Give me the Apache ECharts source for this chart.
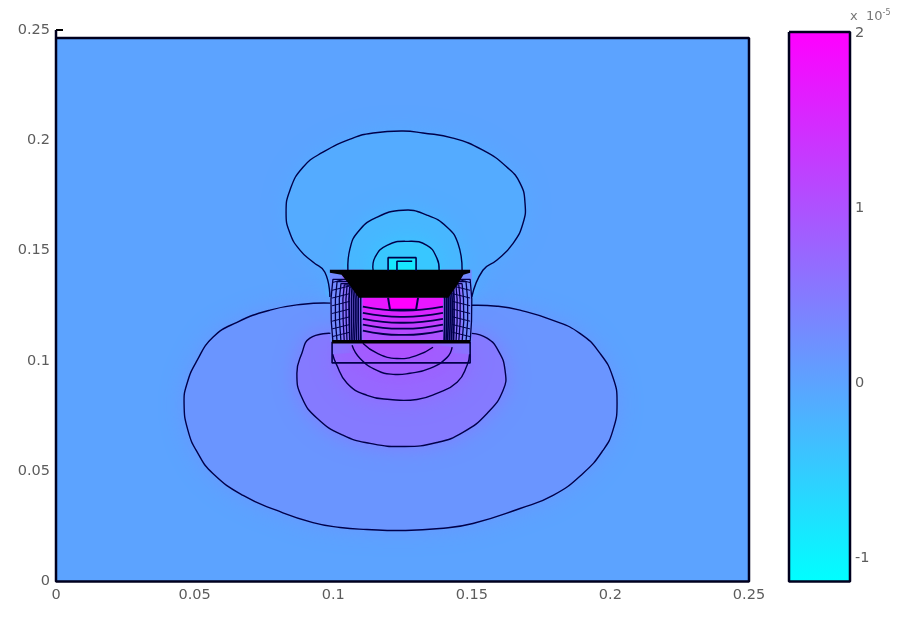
<!DOCTYPE html>
<html><head><meta charset="utf-8">
<style>html,body{margin:0;padding:0;background:#fff}#c{width:900px;height:622px}</style>
<script src="https://cdn.jsdelivr.net/npm/echarts@6/dist/echarts.min.js"></script>
</head><body><div id="c"></div>
<script>
const xTicks=[0,0.05,0.1,0.15,0.2,0.25];
const yTicks=[0,0.05,0.1,0.15,0.2,0.25];
const barTicks=[-1,0,1,2];
const barRange=[-1.134,2.006];
const coolEnds=[[0,255,255],[255,0,255]];
const plotTop=0.2464;

const contourA=[[.0990,.1262],[.0891,.1257],[.0772,.1230],[.0653,.1175],[.0566,.1107],[.0509,.1002],[.0473,.0899],[.0462,.0807],[.0476,.0685],[.0512,.0581],[.0566,.0490],[.0675,.0390],[.0797,.0322],[.0927,.0267],[.1025,.0245],[.1122,.0236],[.1248,.0231],[.1385,.0240],[.1504,.0263],[.1674,.0331],[.1793,.0390],[.1901,.0490],[.1973,.0594],[.2009,.0685],[.2024,.0807],[.2009,.0926],[.1962,.1035],[.1890,.1125],[.1793,.1184],[.1674,.1230],[.1591,.1248],[.1500,.1252]];
const contourB=[[.0990,.1125],[.0916,.1103],[.0887,.1035],[.0869,.0944],[.0887,.0834],[.0942,.0740],[.1035,.0663],[.1133,.0626],[.1252,.0612],[.1374,.0630],[.1468,.0676],[.1555,.0762],[.1613,.0867],[.1620,.0957],[.1595,.1048],[.1555,.1103],[.1500,.1125]];
const contourC=[[.0998,.1030],[.1010,.0989],[.1050,.0899],[.1122,.0844],[.1205,.0825],[.1302,.0825],[.1374,.0853],[.1447,.0903],[.1483,.0980],[.1492,.1030]];
const contourD=[[.1068,.1071],[.1097,.1011],[.1158,.0957],[.1216,.0939],[.1277,.0944],[.1349,.0966],[.1411,.1016],[.1429,.1062]];
const contourE=[[.1107,.1080],[.1158,.1035],[.1230,.1011],[.1302,.1025],[.1360,.1062]];
const contourF=[[.0988,.1290],[.0970,.1402],[.0927,.1448],[.0880,.1502],[.0844,.1579],[.0830,.1670],[.0844,.1774],[.0891,.1878],[.0963,.1946],[.1071,.2010],[.1144,.2033],[.1252,.2042],[.1324,.2033],[.1432,.2010],[.1540,.1955],[.1627,.1878],[.1674,.1806],[.1692,.1715],[.1685,.1625],[.1649,.1533],[.1591,.1457],[.1540,.1411],[.1500,.1290]];
const contourG=[[.1053,.1411],[.1061,.1511],[.1089,.1584],[.1151,.1647],[.1252,.1683],[.1338,.1661],[.1411,.1606],[.1450,.1533],[.1465,.1411]];
const contourH=[[.1144,.1411],[.1151,.1470],[.1194,.1524],[.1270,.1542],[.1338,.1524],[.1374,.1466],[.1382,.1411]];
const topBox=[[.1198,.1409],[.1198,.1468],[.1299,.1468],[.1299,.1409]];
const topBoxLine=[[.1230,.1409],[.1230,.1452],[.1285,.1452]];
const lowerBox=[[.0996,.1087],[.0996,.0991],[.1494,.0991],[.1494,.1087]];
const lowerBoxTop=[[.0996,.1087],[.1494,.1087]];
const sideLeftOuter=[[.0988,.1087],[.0988,.1413],[.1110,.1413],[.1110,.1087]];
const sideRightOuter=[[.1390,.1087],[.1390,.1413],[.1500,.1413],[.1500,.1087]];
const sideLeftInner=[[.1030,.1087],[.1030,.1413],[.1110,.1413],[.1110,.1087]];
const sideRightInner=[[.1390,.1087],[.1390,.1413],[.1465,.1413],[.1465,.1087]];
const core=[[.1107,.1087],[.1107,.1286],[.1396,.1286],[.1396,.1087]];
const blackBand=[[.0988,.1413],[.1494,.1413],[.1494,.1400],[.1470,.1390],[.1445,.1340],[.1415,.1286],[.1092,.1286],[.1062,.1340],[.1030,.1390],[.0988,.1400]];
const coreLines=[
 {level:1.1,pts:[[.1107,.1137],[.1180,.1122],[.1250,.1118],[.1320,.1122],[.1396,.1137]]},
 {level:1.25,pts:[[.1107,.1164],[.1180,.1150],[.1250,.1146],[.1320,.1150],[.1396,.1164]]},
 {level:1.4,pts:[[.1107,.1191],[.1180,.1177],[.1250,.1173],[.1320,.1177],[.1396,.1191]]},
 {level:1.55,pts:[[.1107,.1218],[.1180,.1204],[.1250,.1200],[.1320,.1204],[.1396,.1218]]},
 {level:1.72,pts:[[.1107,.1246],[.1180,.1232],[.1250,.1228],[.1320,.1232],[.1396,.1246]]}
];
const coreCap=[[.1198,.1286],[.1205,.1232],[.1299,.1232],[.1306,.1286]];
const coils=[
 [[.0999,.1087],[.0993,.1180],[.0992,.1280],[.0999,.1370],[.1494,.1370],[.1500,.1280],[.1499,.1180],[.1494,.1087]],
 [[.1014,.1087],[.1008,.1180],[.1008,.1280],[.1014,.1360],[.1479,.1360],[.1485,.1280],[.1485,.1180],[.1479,.1087]],
 [[.1028,.1087],[.1023,.1180],[.1022,.1280],[.1028,.1350],[.1465,.1350],[.1470,.1280],[.1471,.1180],[.1465,.1087]],
 [[.1040,.1087],[.1036,.1180],[.1035,.1280],[.1040,.1345],[.1453,.1345],[.1458,.1280],[.1458,.1180],[.1453,.1087]],
 [[.1050,.1087],[.1047,.1180],[.1046,.1280],[.1050,.1340],[.1443,.1340],[.1447,.1280],[.1447,.1180],[.1443,.1087]],
 [[.1060,.1087],[.1058,.1180],[.1057,.1280],[.1060,.1335],[.1434,.1335],[.1436,.1280],[.1436,.1180],[.1434,.1087]],
 [[.1068,.1087],[.1066,.1180],[.1066,.1280],[.1068,.1330],[.1427,.1330],[.1429,.1280],[.1429,.1180],[.1427,.1087]],
 [[.1076,.1087],[.1074,.1180],[.1074,.1280],[.1076,.1325],[.1420,.1325],[.1422,.1280],[.1422,.1180],[.1420,.1087]],
 [[.1084,.1087],[.1082,.1180],[.1082,.1280],[.1084,.1320],[.1413,.1320],[.1415,.1280],[.1415,.1180],[.1413,.1087]],
 [[.1092,.1087],[.1090,.1180],[.1090,.1280],[.1092,.1315],[.1407,.1315],[.1409,.1280],[.1409,.1180],[.1407,.1087]],
 [[.1100,.1087],[.1099,.1180],[.1099,.1280],[.1100,.1310],[.1400,.1310],[.1402,.1280],[.1402,.1180],[.1400,.1087]]
];
const rungsLeft=[
 [[.0996,.1110],[.1060,.1130]],[[.0996,.1145],[.1060,.1165]],[[.0996,.1180],[.1060,.1200]],[[.0996,.1215],[.1060,.1235]],
 [[.0996,.1250],[.1060,.1270]],[[.0996,.1285],[.1060,.1305]],[[.0996,.1320],[.1060,.1340]],[[.0996,.1355],[.1040,.1370]]
];
const rungsRight=[
 [[.1494,.1110],[.1430,.1130]],[[.1494,.1145],[.1430,.1165]],[[.1494,.1180],[.1430,.1200]],[[.1494,.1215],[.1430,.1235]],
 [[.1494,.1250],[.1430,.1270]],[[.1494,.1285],[.1430,.1305]],[[.1494,.1320],[.1430,.1340]],[[.1494,.1355],[.1450,.1370]]
];

const coolColor=v=>{
  const f=Math.max(0,Math.min(1,(v-barRange[0])/(barRange[1]-barRange[0])));
  const c=coolEnds[0].map((a,i)=>Math.round(a+(coolEnds[1][i]-a)*f));
  return 'rgb('+c.join(',')+')';
};
let z=1;
const series=[];
const LINE='#00004a';
function fill(pts,color,blur,smooth){
  series.push({type:'custom',coordinateSystem:'cartesian2d',xAxisIndex:0,yAxisIndex:0,silent:true,animation:false,z:z++,clip:true,
    data:[pts[0]],
    renderItem:(p,api)=>({type:'polygon',shape:{points:pts.map(q=>api.coord(q)),smooth:smooth||0},
      style:{fill:color,shadowBlur:blur||0,shadowColor:color}})});
}
function curve(pts,width){
  series.push({type:'custom',coordinateSystem:'cartesian2d',xAxisIndex:0,yAxisIndex:0,silent:true,animation:false,z:z++,clip:true,
    data:[pts[0]],
    renderItem:(p,api)=>({type:'polyline',shape:{points:pts.map(q=>api.coord(q)),smooth:0.5},
      style:{fill:null,stroke:LINE,lineWidth:width||1.4}})});
}
function line(pts,o){
  o=o||{};
  series.push({type:'line',data:pts,symbol:'none',silent:true,animation:false,z:z++,smooth:false,
    xAxisIndex:o.grid?1:0,yAxisIndex:o.grid?1:0,clip:false,
    lineStyle:{color:o.color||LINE,width:o.width||1.4}});
}
fill([[0,0],[0,plotTop],[.25,plotTop],[.25,0]],coolColor(0));
[[contourA,0.17],[contourB,0.5],[contourC,0.72],[contourD,0.85],[contourE,1.0],[contourF,-0.1],[contourG,-0.25],[contourH,-0.45]]
 .forEach(([c,l])=>fill(c,coolColor(l),22,0.5));
fill(topBox,coolColor(-0.85));
fill(sideLeftOuter,coolColor(0.3));
fill(sideRightOuter,coolColor(0.3));
fill(sideLeftInner,coolColor(0.6));
fill(sideRightInner,coolColor(0.6));
fill(core,coolColor(0.98));
coreLines.forEach(c=>fill(c.pts.concat([[.1396,.1286],[.1107,.1286]]),coolColor(c.level)));
fill(coreCap,coolColor(2));
[contourA,contourB,contourC,contourD,contourE,contourF,contourG,contourH].forEach(c=>curve(c));
coreLines.forEach(c=>curve(c.pts,1.8));
line(coreCap,{width:2});
coils.forEach((c,i)=>line(c,{width:i>4?1.7:1.3}));
rungsLeft.concat(rungsRight).forEach(c=>line(c,{width:1}));
fill(blackBand,'#000');
line(topBox,{width:1.6});
line(topBoxLine,{width:1.6});
line(lowerBox,{width:1.6});
line(lowerBoxTop,{width:3.5,color:'#000'});
line([[0,.25],[0,0],[.25,0],[.25,plotTop],[0,plotTop]],{width:2.5,color:'#00001e'});
series.push({type:'custom',coordinateSystem:'cartesian2d',xAxisIndex:1,yAxisIndex:1,silent:true,animation:false,z:z++,
  data:[[0,barRange[0]]],
  renderItem:(p,api)=>{
    const a=api.coord([0,barRange[1]]),b=api.coord([1,barRange[0]]);
    return {type:'rect',shape:{x:a[0],y:a[1],width:b[0]-a[0],height:b[1]-a[1]},
      style:{fill:new echarts.graphic.LinearGradient(0,1,0,0,[{offset:0,color:coolColor(barRange[0])},{offset:1,color:coolColor(barRange[1])}])}};
  }});
line([[0,barRange[1]],[0,barRange[0]],[1,barRange[0]],[1,barRange[1]],[0,barRange[1]]],{grid:1,width:2.5,color:'#00001e'});

const labelStyle={color:'#5c5c5c',fontFamily:'DejaVu Sans',fontSize:14.5};
const chart=echarts.init(document.getElementById('c'),null,{renderer:'canvas'});
chart.setOption({
  animation:false,backgroundColor:'#fff',
  title:{text:'x  10{s|-5}',left:850,top:9,padding:0,textStyle:{color:'#777',fontFamily:'DejaVu Sans',fontSize:13,fontWeight:'normal',
    rich:{s:{fontSize:8,color:'#777',verticalAlign:'top',fontFamily:'DejaVu Sans',padding:[0,0,7,0]}}}},
  grid:[{left:56,top:30,width:693,height:551.5},{left:789,top:32,width:61,height:549.5}],
  xAxis:[
    {type:'value',gridIndex:0,min:0,max:.25,splitLine:{show:false},axisLine:{show:false},axisTick:{show:false},
      axisLabel:{...labelStyle,margin:6,customValues:xTicks}},
    {type:'value',gridIndex:1,min:0,max:1,show:false}
  ],
  yAxis:[
    {type:'value',gridIndex:0,min:0,max:.25,splitLine:{show:false},axisLine:{show:false},
      axisTick:{show:true,inside:true,length:7,customValues:[.25],lineStyle:{color:'#000',width:2}},
      axisLabel:{...labelStyle,margin:6,padding:[0,0,3,0],customValues:yTicks}},
    {type:'value',gridIndex:1,min:barRange[0],max:barRange[1],position:'left',splitLine:{show:false},axisLine:{show:false},
      axisTick:{show:true,inside:true,length:6,customValues:barTicks,lineStyle:{color:'#00001e',width:2}},
      axisLabel:{show:false},z:50},
    {type:'value',gridIndex:1,min:barRange[0],max:barRange[1],position:'right',splitLine:{show:false},axisLine:{show:false},
      axisTick:{show:true,inside:true,length:6,customValues:barTicks,lineStyle:{color:'#00001e',width:2}},
      axisLabel:{...labelStyle,margin:5,customValues:barTicks},z:50}
  ],
  series
});
</script></body></html>
